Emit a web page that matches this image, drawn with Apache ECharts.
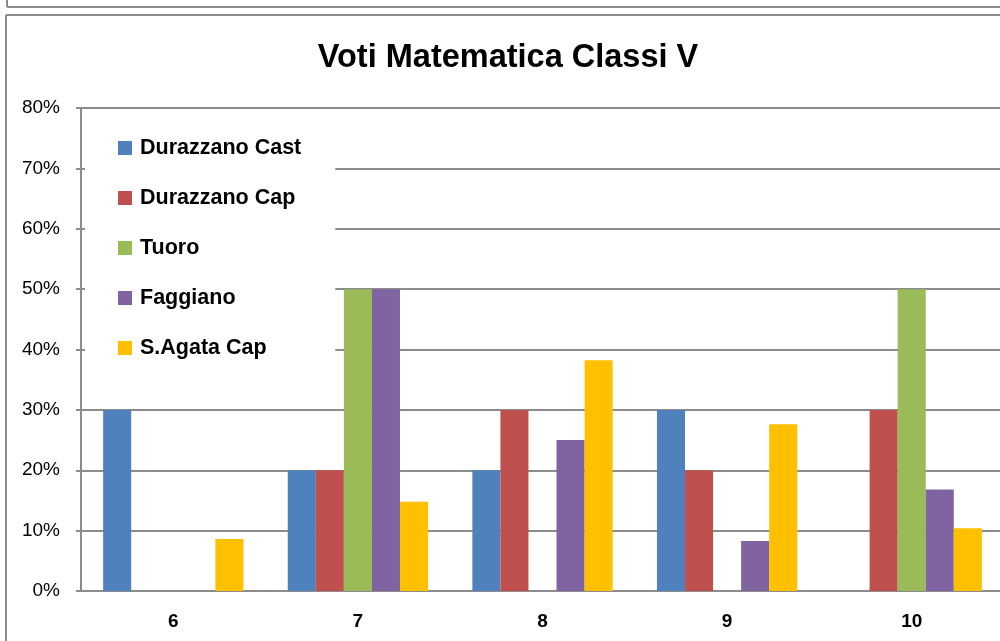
<!DOCTYPE html>
<html>
<head>
<meta charset="utf-8">
<title>Voti Matematica Classi V</title>
<script src="https://cdn.jsdelivr.net/npm/echarts@6/dist/echarts.min.js"></script>
<style>
  html, body { margin: 0; padding: 0; background: #fff; }
  #chart { width: 1000px; height: 641px; }
</style>
</head>
<body>
<div id="chart"></div>
<script>
// dati (percentuali)
const categories = ['6', '7', '8', '9', '10']
const seriesNames = ['Durazzano Cast', 'Durazzano Cap', 'Tuoro', 'Faggiano', 'S.Agata Cap']
const durazzanoCast = [30, 20, 20, 30, 0]
const durazzanoCap = [0, 20, 30, 20, 30]
const tuoro = [0, 50, 0, 0, 50]
const faggiano = [0, 50, 25, 8.3, 16.8]
const sAgataCap = [8.6, 14.8, 38.2, 27.6, 10.4]
const yTicks = { min: 0, max: 80, step: 10 }

const colors = ['#4F81BD', '#C0504D', '#9BBB59', '#8064A2', '#FFC000']
const values = [durazzanoCast, durazzanoCap, tuoro, faggiano, sAgataCap]
const font = '"Liberation Sans", Arial, sans-serif'

const myChart = echarts.init(document.getElementById('chart'))
const option = {
  animation: false,
  color: colors,
  title: {
    text: 'Voti Matematica Classi V',
    left: 503,
    textAlign: 'center',
    top: 37,
    textStyle: { fontFamily: font, fontSize: 32.5, fontWeight: 'bold', color: '#000' }
  },
  legend: {
    orient: 'vertical',
    left: 85,
    top: 112,
    padding: [25, 34, 14, 33],
    backgroundColor: '#fff',
    itemWidth: 14,
    itemHeight: 14,
    itemGap: 28,
    icon: 'rect',
    data: seriesNames,
    textStyle: { fontFamily: font, fontSize: 21.5, fontWeight: 'bold', color: '#000', lineHeight: 20, padding: [0, 0, 0, 3] }
  },
  grid: {
    left: 81,
    top: 108,
    width: 923,
    bottom: 50,
    containLabel: false,
    outerBoundsMode: 'none'
  },
  xAxis: {
    type: 'category',
    data: categories,
    axisLine: { lineStyle: { color: '#8c8c8c', width: 2 } },
    axisTick: { show: false },
    axisLabel: { margin: 21, fontFamily: font, fontSize: 19, fontWeight: 'bold', color: '#000' }
  },
  yAxis: {
    type: 'value',
    min: yTicks.min,
    max: yTicks.max,
    interval: yTicks.step,
    axisLine: { show: true, lineStyle: { color: '#8c8c8c', width: 2 } },
    axisTick: { show: true, length: 5, lineStyle: { color: '#8c8c8c', width: 2 } },
    splitLine: { lineStyle: { color: '#8c8c8c', width: 2 } },
    axisLabel: { margin: 21, fontFamily: font, fontSize: 19, color: '#000', formatter: '{value}%' }
  },
  series: seriesNames.map((name, i) => ({
    name: name,
    type: 'bar',
    data: values[i],
    barGap: 0,
    barCategoryGap: '24%',
    itemStyle: { color: colors[i] }
  })),
  graphic: [
    // cornice del riquadro superiore
    { type: 'line', shape: { x1: 7, y1: 7, x2: 1000, y2: 7 }, style: { stroke: '#8c8c8c', lineWidth: 2 } },
    { type: 'line', shape: { x1: 7, y1: 0, x2: 7, y2: 7 }, style: { stroke: '#8c8c8c', lineWidth: 2 } },
    // cornice del grafico
    { type: 'line', shape: { x1: 6, y1: 15, x2: 1000, y2: 15 }, style: { stroke: '#8c8c8c', lineWidth: 2 } },
    { type: 'line', shape: { x1: 6, y1: 15, x2: 6, y2: 641 }, style: { stroke: '#8c8c8c', lineWidth: 2 } }
  ]
}
myChart.setOption(option)
</script>
</body>
</html>
